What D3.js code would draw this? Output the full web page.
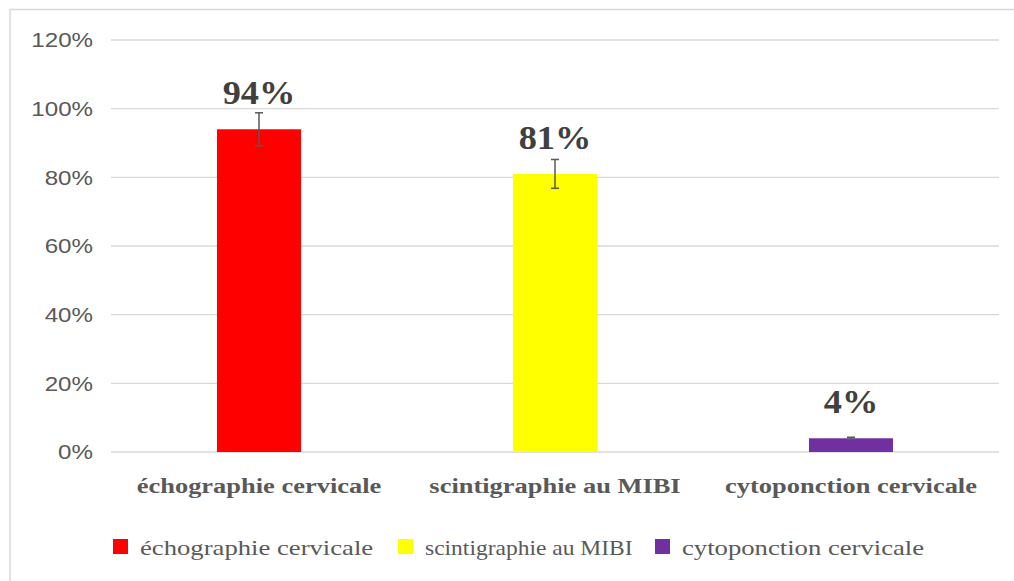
<!DOCTYPE html>
<html lang="fr">
<meta charset="utf-8">
<head>
<script src="https://cdn.jsdelivr.net/npm/d3@7"></script>
<style>
  body { margin: 0; background: #fff; }
  svg { display: block; }
</style>
</head>
<body>
<svg id="chart" width="1014" height="581"></svg>
<script>
// data
var categories = ["échographie cervicale", "scintigraphie au MIBI", "cytoponction cervicale"];
var values = [94, 81, 4];
var errors = [4.8, 4.2, 0.3];
var labels = ["94%", "81%", "4%"];
var colors = ["#ff0000", "#ffff00", "#7030a0"];
var yTicks = [0, 20, 40, 60, 80, 100, 120];

var svg = d3.select("#chart"),
    width = 1014,
    height = 581;

var serif = "'Liberation Serif', 'Times New Roman', serif";

// frame of the chart area
svg.append("rect")
  .attr("x", 10).attr("y", 9.5)
  .attr("width", 1010).attr("height", 580)
  .attr("fill", "#fff")
  .attr("stroke", "#d9d9d9")
  .attr("stroke-width", 1.5);

var x = d3.scaleBand()
  .domain(categories)
  .range([111, 999])
  .paddingInner(0.716)
  .paddingOuter(0.358);

var y = d3.scaleLinear()
  .domain([0, 120])
  .range([452, 40]);

// gridlines
svg.append("g")
  .selectAll("line")
  .data(yTicks)
  .enter()
  .append("line")
    .attr("x1", 111).attr("x2", 999)
    .attr("y1", function(d) { return y(d); })
    .attr("y2", function(d) { return y(d); })
    .attr("stroke", "#d9d9d9")
    .attr("stroke-width", 1.3);

// y axis labels (source picture is stretched sideways, so text gets a scaleX)
var yAxis = d3.axisLeft(y)
  .tickValues(yTicks)
  .tickSize(0)
  .tickPadding(0)
  .tickFormat(function(d) { return d + "%"; });

svg.append("g")
  .attr("transform", "translate(111,0)")
  .call(yAxis)
  .call(function(g) { g.select(".domain").remove(); })
  .selectAll("text")
    .attr("x", -18 / 1.15)
    .attr("transform", "scale(1.15,1)")
    .attr("fill", "#595959")
    .style("font-family", "'Liberation Sans', Arial, sans-serif")
    .style("font-size", "21px");

// bars
svg.append("g")
  .selectAll("rect")
  .data(values)
  .enter()
  .append("rect")
    .attr("x", function(d, i) { return x(categories[i]); })
    .attr("y", function(d) { return y(d); })
    .attr("width", x.bandwidth())
    .attr("height", function(d) { return y(0) - y(d); })
    .attr("fill", function(d, i) { return colors[i]; });

// error bars
var eb = svg.append("g")
  .attr("stroke", "#595959")
  .attr("stroke-width", 1.5);
values.forEach(function(v, i) {
  var cx = x(categories[i]) + x.bandwidth() / 2;
  eb.append("line")
    .attr("x1", cx).attr("x2", cx)
    .attr("y1", y(v + errors[i])).attr("y2", y(v - errors[i]));
  eb.append("line")
    .attr("x1", cx - 4).attr("x2", cx + 4)
    .attr("y1", y(v + errors[i])).attr("y2", y(v + errors[i]));
  eb.append("line")
    .attr("x1", cx - 4).attr("x2", cx + 4)
    .attr("y1", y(v - errors[i])).attr("y2", y(v - errors[i]));
});

// value labels
svg.append("g")
  .selectAll("text")
  .data(values)
  .enter()
  .append("text")
    .attr("transform", function(d, i) {
      return "translate(" + (x(categories[i]) + x.bandwidth() / 2) + "," + (y(d) - 25) + ") scale(1.1,1)";
    })
    .attr("text-anchor", "middle")
    .attr("fill", "#404040")
    .style("font-family", serif)
    .style("font-weight", "bold")
    .style("font-size", "33px")
    .text(function(d, i) { return labels[i]; });

// category labels
svg.append("g")
  .selectAll("text")
  .data(categories)
  .enter()
  .append("text")
    .attr("transform", function(d) {
      return "translate(" + (x(d) + x.bandwidth() / 2) + ",493) scale(1.26,1)";
    })
    .attr("text-anchor", "middle")
    .attr("fill", "#595959")
    .style("font-family", serif)
    .style("font-weight", "bold")
    .style("font-size", "21px")
    .text(function(d) { return d; });

// legend
var legendX = [113, 398, 655];
var legendStretch = [1.27, 1.12, 1.27];
var legend = svg.append("g")
  .selectAll("g")
  .data(categories)
  .enter()
  .append("g")
    .attr("transform", function(d, i) { return "translate(" + legendX[i] + ",0)"; });

legend.append("rect")
  .attr("x", 0).attr("y", 539)
  .attr("width", 15).attr("height", 15)
  .attr("fill", function(d, i) { return colors[i]; });

legend.append("text")
  .attr("transform", function(d, i) { return "translate(27,555) scale(" + legendStretch[i] + ",1)"; })
  .attr("fill", "#595959")
  .style("font-family", serif)
  .style("font-size", "21px")
  .text(function(d) { return d; });
</script>
</body>
</html>
